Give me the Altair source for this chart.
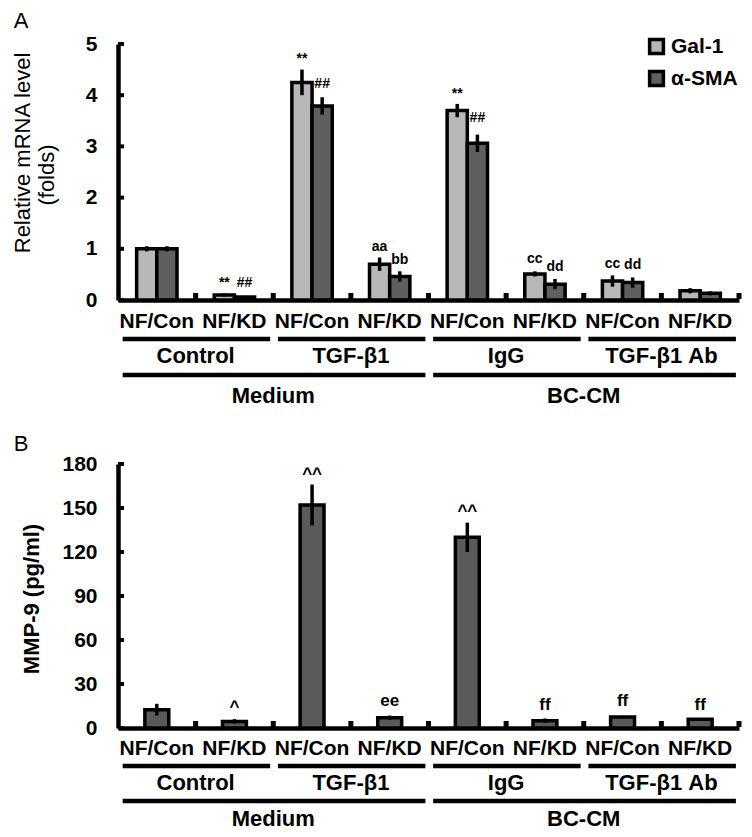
import altair as alt
import pandas as pd

# ---------------- data ----------------
conditions = ["NF/Con", "NF/KD", "NF/Con", "NF/KD", "NF/Con", "NF/KD", "NF/Con", "NF/KD"]
treatments = ["Control", "TGF-β1", "IgG", "TGF-β1 Ab"]
media = ["Medium", "BC-CM"]
series = ["Gal-1", "α-SMA"]

gal1 = [1.00, 0.10, 4.25, 0.70, 3.70, 0.51, 0.37, 0.18]
gal1_err = [0.05, 0.03, 0.25, 0.13, 0.13, 0.05, 0.11, 0.05]
sma = [1.00, 0.06, 3.79, 0.46, 3.06, 0.31, 0.34, 0.13]
sma_err = [0.05, 0.02, 0.17, 0.10, 0.17, 0.10, 0.10, 0.04]

mmp9 = [12.5, 4.5, 152.0, 7.0, 130.0, 5.0, 7.5, 6.0]
mmp9_err = [4.0, 1.5, 14.0, 1.5, 10.0, 1.5, 0.8, 0.8]

top_ann_text = ["**", "##", "**", "##", "aa", "bb", "**", "##", "cc", "dd", "cc", "dd"]
top_ann_cat = [1, 1, 2, 2, 3, 3, 4, 4, 5, 5, 6, 6]
top_ann_series = ["Gal-1", "α-SMA"] * 6
top_ann_y = [0.34, 0.34, 4.70, 4.22, 1.04, 0.78, 4.03, 3.55, 0.80, 0.64, 0.70, 0.68]

bot_ann_text = ["^", "^^", "ee", "^^", "ff", "ff", "ff"]
bot_ann_cat = [1, 2, 3, 4, 5, 6, 7]
bot_ann_y = [14.0, 173.0, 18.3, 148.0, 15.6, 18.3, 15.6]

top_ticks = [0, 1, 2, 3, 4, 5]
bot_ticks = [0, 30, 60, 90, 120, 150, 180]

# ---------------- style ----------------
FONT = "Liberation Sans"
W, H1, H2 = 621, 256, 264
NCAT = len(conditions)
BW = 0.26        # width of one bar (category units), top panel
BW2 = 0.154      # half width of bar, bottom panel
C_GAL = "#b8b8b8"
C_SMA = "#5f5f5f"
C_MMP = "#5a5a5a"

xscale = alt.Scale(domain=[0, NCAT], nice=False, zero=False)
x_axis = alt.Axis(domain=True, domainWidth=4.5, domainColor="black", ticks=False,
                  labels=False, grid=False, title=None)


def X(field):
    return alt.X(f"{field}:Q", scale=xscale, axis=x_axis)


def make_y(domain, ticks):
    sc = alt.Scale(domain=domain, nice=False, zero=True)
    ax = alt.Axis(values=ticks, domain=True, domainWidth=4.5, domainColor="black",
                  ticks=False, grid=False, title=None, labelFont=FONT, labelFontSize=21,
                  labelFontWeight="bold", labelColor="black", labelPadding=21)

    def Y(field):
        return alt.Y(f"{field}:Q", scale=sc, axis=ax)
    return Y


Y1 = make_y([0, 5], top_ticks)
Y2 = make_y([0, 180], bot_ticks)

# ---------------- tables ----------------
rows = []
for i in range(NCAT):
    c = i + 0.5
    rows.append(dict(series=series[0], x0=c - BW, x1=c, xc=c - BW / 2, v=gal1[i],
                     lo=gal1[i] - gal1_err[i], hi=gal1[i] + gal1_err[i]))
    rows.append(dict(series=series[1], x0=c, x1=c + BW, xc=c + BW / 2, v=sma[i],
                     lo=sma[i] - sma_err[i], hi=sma[i] + sma_err[i]))
top_df = pd.DataFrame(rows)

bot_df = pd.DataFrame(dict(
    x0=[i + 0.5 - BW2 for i in range(NCAT)],
    x1=[i + 0.5 + BW2 for i in range(NCAT)],
    xc=[i + 0.5 for i in range(NCAT)],
    v=mmp9,
    lo=[m - e for m, e in zip(mmp9, mmp9_err)],
    hi=[m + e for m, e in zip(mmp9, mmp9_err)],
))

top_ann_df = pd.DataFrame(dict(
    t=top_ann_text,
    xc=[c + 0.5 + (-BW / 2 if s == series[0] else BW / 2) for c, s in zip(top_ann_cat, top_ann_series)],
    y=top_ann_y,
))
bot_ann_df = pd.DataFrame(dict(t=bot_ann_text, xc=[c + 0.5 for c in bot_ann_cat], y=bot_ann_y))

cat_df = pd.DataFrame(dict(t=conditions, xc=[i + 0.5 for i in range(NCAT)]))
grp_df = pd.DataFrame(dict(
    t=treatments,
    x0=[2 * g + 0.06 for g in range(len(treatments))],
    x1=[2 * g + 2 - 0.04 for g in range(len(treatments))],
    xc=[2 * g + 1 for g in range(len(treatments))],
))
med_df = pd.DataFrame(dict(
    t=media,
    x0=[4 * g + 0.06 for g in range(len(media))],
    x1=[4 * g + 4 - 0.04 for g in range(len(media))],
    xc=[4 * g + 2 for g in range(len(media))],
))
bound_df = pd.DataFrame(dict(b=list(range(1, NCAT + 1))))
one = alt.Data(values=[{}])


def label_layers(H, offs):
    o_cat, o_l1, o_grp, o_l2, o_med = offs
    cats = alt.Chart(cat_df).mark_text(font=FONT, fontSize=21, fontWeight="bold", color="black",
                                       baseline="middle").encode(
        x=X("xc"), y=alt.value(H + o_cat), text="t:N")
    l1 = alt.Chart(grp_df).mark_rule(strokeWidth=4.5, color="black", strokeCap="butt").encode(
        x=X("x0"), x2="x1", y=alt.value(H + o_l1))
    grp = alt.Chart(grp_df).mark_text(font=FONT, fontSize=22, fontWeight="bold", color="black",
                                      baseline="middle").encode(
        x=X("xc"), y=alt.value(H + o_grp), text="t:N")
    l2 = alt.Chart(med_df).mark_rule(strokeWidth=4.5, color="black", strokeCap="butt").encode(
        x=X("x0"), x2="x1", y=alt.value(H + o_l2))
    med = alt.Chart(med_df).mark_text(font=FONT, fontSize=22, fontWeight="bold", color="black",
                                      baseline="middle").encode(
        x=X("xc"), y=alt.value(H + o_med), text="t:N")
    nubs = alt.Chart(bound_df).mark_rule(strokeWidth=5, color="black", strokeCap="butt").encode(
        x=X("b"), y=alt.value(H - 1), y2=alt.value(H - 7))
    return [cats, l1, grp, l2, med, nubs]


# ---------------- top panel ----------------
bars_top = alt.Chart(top_df).mark_bar(stroke="black", strokeWidth=3.5).encode(
    x=X("x0"), x2="x1", y=Y1("v"), y2=alt.datum(0),
    color=alt.Color("series:N", scale=alt.Scale(domain=series, range=[C_GAL, C_SMA]),
                    legend=alt.Legend(orient="none", legendX=W - 93, legendY=-8, title=None,
                                      symbolType="square", symbolSize=190,
                                      symbolStrokeColor="black", symbolStrokeWidth=3.5,
                                      symbolOpacity=1,
                                      labelFont=FONT, labelFontSize=21, labelFontWeight="bold",
                                      labelColor="black", labelOffset=4, rowPadding=3,
                                      padding=0)),
)
err_top = alt.Chart(top_df).mark_rule(strokeWidth=3.5, color="black").encode(
    x=X("xc"), y=Y1("lo"), y2="hi")
ann_top = alt.Chart(top_ann_df).mark_text(font=FONT, fontSize=14, fontWeight="bold",
                                          color="black", baseline="middle").encode(
    x=X("xc"), y=Y1("y"), text="t:N")
yt_top = alt.Chart(pd.DataFrame(dict(t=top_ticks))).mark_rule(strokeWidth=4, color="black").encode(
    y=Y1("t"), x=alt.value(0), x2=alt.value(6))
title_a1 = alt.Chart(one).mark_text(font=FONT, fontSize=22, color="black", angle=270,
                                    baseline="middle", align="center").encode(
    x=alt.value(-95), y=alt.value(109), text=alt.value("Relative mRNA level"))
title_a2 = alt.Chart(one).mark_text(font=FONT, fontSize=22, color="black", angle=270,
                                    baseline="middle", align="center").encode(
    x=alt.value(-71), y=alt.value(131), text=alt.value("(folds)"))
letter_a = alt.Chart(one).mark_text(font=FONT, fontSize=22, color="black",
                                    baseline="middle", align="center").encode(
    x=alt.value(-97), y=alt.value(-23), text=alt.value("A"))

top = alt.layer(bars_top, err_top, ann_top, yt_top, title_a1, title_a2, letter_a,
                *label_layers(H1, (22, 39, 56, 75, 96))).properties(width=W, height=H1)

# ---------------- bottom panel ----------------
bars_bot = alt.Chart(bot_df).mark_bar(stroke="black", strokeWidth=3.5, color=C_MMP).encode(
    x=X("x0"), x2="x1", y=Y2("v"), y2=alt.datum(0))
err_bot = alt.Chart(bot_df).mark_rule(strokeWidth=3.5, color="black").encode(
    x=X("xc"), y=Y2("lo"), y2="hi")
ann_bot = alt.Chart(bot_ann_df).mark_text(font=FONT, fontSize=17, fontWeight="bold",
                                          color="black", baseline="middle").encode(
    x=X("xc"), y=Y2("y"), text="t:N")
yt_bot = alt.Chart(pd.DataFrame(dict(t=bot_ticks))).mark_rule(strokeWidth=4, color="black").encode(
    y=Y2("t"), x=alt.value(0), x2=alt.value(6))
title_b = alt.Chart(one).mark_text(font=FONT, fontSize=22, fontWeight="bold", color="black",
                                   angle=270, baseline="middle", align="center").encode(
    x=alt.value(-86), y=alt.value(135), text=alt.value("MMP-9 (pg/ml)"))
letter_b = alt.Chart(one).mark_text(font=FONT, fontSize=22, color="black",
                                    baseline="middle", align="center").encode(
    x=alt.value(-97), y=alt.value(-20), text=alt.value("B"))

bottom = alt.layer(bars_bot, err_bot, ann_bot, yt_bot, title_b, letter_b,
                   *label_layers(H2, (21, 38, 55, 73, 91))).properties(width=W, height=H2)

chart = alt.vconcat(top, bottom, spacing=164, bounds="flush").resolve_scale(
    color="independent").resolve_legend(color="independent").properties(
    padding={"left": 4, "top": 2, "right": 0, "bottom": 0},
    background="white").configure_view(stroke=None)

chart.save("out.html", embed_options={"renderer": "svg", "actions": False})
